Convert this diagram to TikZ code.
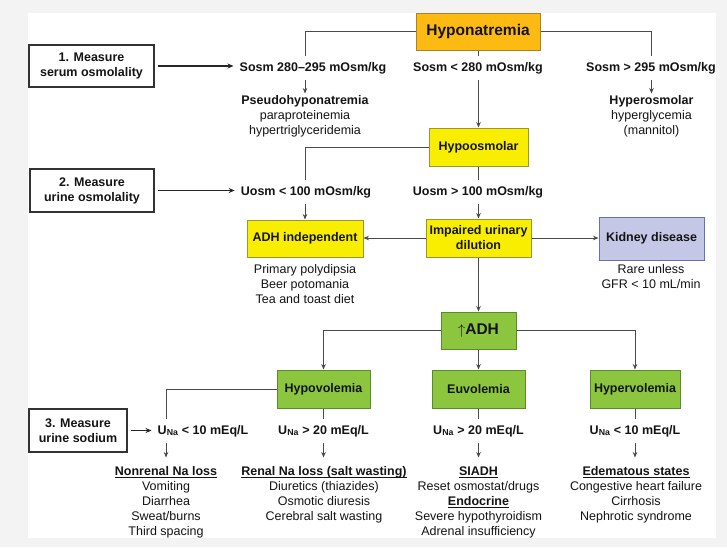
\documentclass[tikz,border=0pt]{standalone}
\usepackage{fontspec}
\setmainfont{Liberation Sans}
\usetikzlibrary{arrows.meta,calc}
\definecolor{bggray}{HTML}{F3F3F3}
\definecolor{orangefill}{HTML}{FDBA13}
\definecolor{orangeline}{HTML}{A8832E}
\definecolor{yellowfill}{HTML}{FAEE00}
\definecolor{yellowline}{HTML}{9C9535}
\definecolor{bluefill}{HTML}{C5C7E7}
\definecolor{blueline}{HTML}{6870B5}
\definecolor{greenfill}{HTML}{8CC63F}
\definecolor{greenline}{HTML}{5A8A2A}
\definecolor{conn}{HTML}{4A4A4A}
\definecolor{txtcol}{HTML}{141414}
\newcommand{\fsN}{\fontsize{12.5}{15}\selectfont}
\newcommand{\fsB}{\fontsize{12.5}{15}\selectfont\bfseries}
\newcommand{\fsH}{\fontsize{15.5}{18}\selectfont\bfseries}
\newcommand{\headul}[1]{\rule{0pt}{9.2pt}\underline{\smash{\textbf{#1}}}}
\begin{document}
\begin{tikzpicture}[x=1pt,y=-1pt,
  line/.style={draw=conn, line width=0.8pt},
  arr/.style={line, -{Stealth[length=5.5pt,width=4.5pt]}},
  measarr/.style={draw=black!85, line width=1.5pt, -{Stealth[length=6pt,width=5pt]}, shorten <=3pt, shorten >=4pt},
  cbox/.style={draw, line width=1pt, inner sep=0pt, align=center, font=\fsB, text=txtcol},
  mbox/.style={cbox, fill=white, draw=black!80, line width=1.3pt},
  lbl/.style={font=\fsB, inner xsep=2pt, inner ysep=2pt, outer ysep=4pt, text height=9pt, text depth=3pt, text=txtcol},
  grp/.style={font=\fsN, align=center, anchor=north, inner sep=2pt, text=txtcol}
]
\useasboundingbox (0,0) rectangle (727,547);
\fill[bggray] (0,0) rectangle (727,547);
\fill[white] (28,13) rectangle (716,538);

% top level
\node[cbox, fill=orangefill, draw=orangeline, minimum width=124, minimum height=37, font=\fsH] (hypo) at (478,31.5) {Hyponatremia};
\node[mbox, minimum width=125, minimum height=42] (m1) at (91.5,66) {1. Measure\\serum osmolality};
\node[lbl] (s1) at (313,68) {Sosm 280--295 mOsm/kg};
\node[lbl] (s2) at (478,68) {Sosm < 280 mOsm/kg};
\node[lbl] (s3) at (651,68) {Sosm > 295 mOsm/kg};
\node[grp] (pseudo) at (305,93.5) {\textbf{Pseudohyponatremia}\\paraproteinemia\\hypertriglyceridemia};
\node[grp] (hyper) at (651.5,93.5) {\textbf{Hyperosmolar}\\hyperglycemia\\(mannitol)};

% second level
\node[cbox, fill=yellowfill, draw=yellowline, minimum width=99, minimum height=38] (hosm) at (478.5,147) {Hypoosmolar};
\node[mbox, minimum width=124, minimum height=43] (m2) at (92,190.5) {2. Measure\\urine osmolality};
\node[lbl] (u1) at (306,192) {Uosm < 100 mOsm/kg};
\node[lbl] (u2) at (478,192) {Uosm > 100 mOsm/kg};
\node[cbox, fill=yellowfill, draw=yellowline, minimum width=116, minimum height=37] (adhi) at (305,238.5) {ADH independent};
\node[cbox, fill=yellowfill, draw=yellowline, minimum width=105, minimum height=38] (imp) at (478.5,238) {Impaired urinary\\dilution};
\node[cbox, fill=bluefill, draw=blueline, minimum width=105, minimum height=43] (kid) at (651.5,238.5) {Kidney disease};
\node[grp] (adhtxt) at (305,262.5) {Primary polydipsia\\Beer potomania\\Tea and toast diet};
\node[grp] (kidtxt) at (651,262.5) {Rare unless\\GFR < 10 mL/min};

% third level
\node[cbox, fill=greenfill, draw=greenline, minimum width=75, minimum height=37, font=\fsH] (adh) at (478.5,330.5) {$\uparrow$ADH};
\node[cbox, fill=greenfill, draw=greenline, minimum width=93, minimum height=38] (hypov) at (323.5,389) {Hypovolemia};
\node[cbox, fill=greenfill, draw=greenline, minimum width=93, minimum height=38] (euv) at (478.5,389) {Euvolemia};
\node[cbox, fill=greenfill, draw=greenline, minimum width=90, minimum height=38] (hyperv) at (635,389) {Hypervolemia};
\node[mbox, minimum width=98, minimum height=43] (m3) at (78,430.5) {3. Measure\\urine sodium};
\node[lbl] (n1) at (203,431) {U\textsubscript{Na} < 10 mEq/L};
\node[lbl] (n2) at (323.5,431) {U\textsubscript{Na} > 20 mEq/L};
\node[lbl] (n3) at (478.5,431) {U\textsubscript{Na} > 20 mEq/L};
\node[lbl] (n4) at (635,431) {U\textsubscript{Na} < 10 mEq/L};
\node[grp] (nonr) at (166,464.5) {\headul{Nonrenal Na loss}\\Vomiting\\Diarrhea\\Sweat/burns\\Third spacing};
\node[grp] (renal) at (324,464.5) {\headul{Renal Na loss (salt wasting)}\\Diuretics (thiazides)\\Osmotic diuresis\\Cerebral salt wasting};
\node[grp] (siadh) at (478.5,464.5) {\headul{SIADH}\\Reset osmostat/drugs\\\headul{Endocrine}\\Severe hypothyroidism\\Adrenal insufficiency};
\node[grp] (edem) at (636,464.5) {\headul{Edematous states}\\Congestive heart failure\\Cirrhosis\\Nephrotic syndrome};

% connectors
\draw[line] (hypo.west) -| (pseudo.north |- s1.north);
\draw[line] (hypo.south) -- (s2.north);
\draw[line] (hypo.east) -| (hyper.north |- s3.north);
\draw[arr] (pseudo.north |- s1.south) -- (pseudo.north);
\draw[arr] (hosm.north |- s2.south) -- (hosm.north);
\draw[arr] (hyper.north |- s3.south) -- (hyper.north);
\draw[measarr] (m1.east) -- (m1.east -| s1.west);

\draw[line] (hosm.west) -| (adhi.north |- u1.north);
\draw[line] (hosm.south) -- (hosm.south |- u2.north);
\draw[arr] (adhi.north |- u1.south) -- (adhi.north);
\draw[arr] (imp.north |- u2.south) -- (imp.north);
\draw[measarr] (m2.east) -- (m2.east -| u1.west);
\draw[arr] (imp.west) -- (imp.west -| adhi.east);
\draw[arr] (imp.east) -- (imp.east -| kid.west);
\draw[arr] (imp.south) -- (adh.north);

\draw[arr] (adh.west) -| (hypov.north);
\draw[arr] (adh.south) -- (euv.north);
\draw[arr] (adh.east) -| (hyperv.north);
\draw[line] (hypov.west) -| (nonr.north |- n1.north);
\draw[measarr] (m3.east) -- (m3.east -| n1.west);
\draw[line] (hypov.south) -- (hypov.south |- n2.north);
\draw[line] (euv.south) -- (euv.south |- n3.north);
\draw[line] (hyperv.south) -- (hyperv.south |- n4.north);
\draw[arr, shorten >=7pt] (nonr.north |- n1.south) -- (nonr.north);
\draw[arr, shorten >=7pt] (hypov.south |- n2.south) -- (hypov.south |- renal.north);
\draw[arr, shorten >=7pt] (siadh.north |- n3.south) -- (siadh.north);
\draw[arr, shorten >=7pt] (hyperv.south |- n4.south) -- (hyperv.south |- edem.north);
\end{tikzpicture}
\end{document}
